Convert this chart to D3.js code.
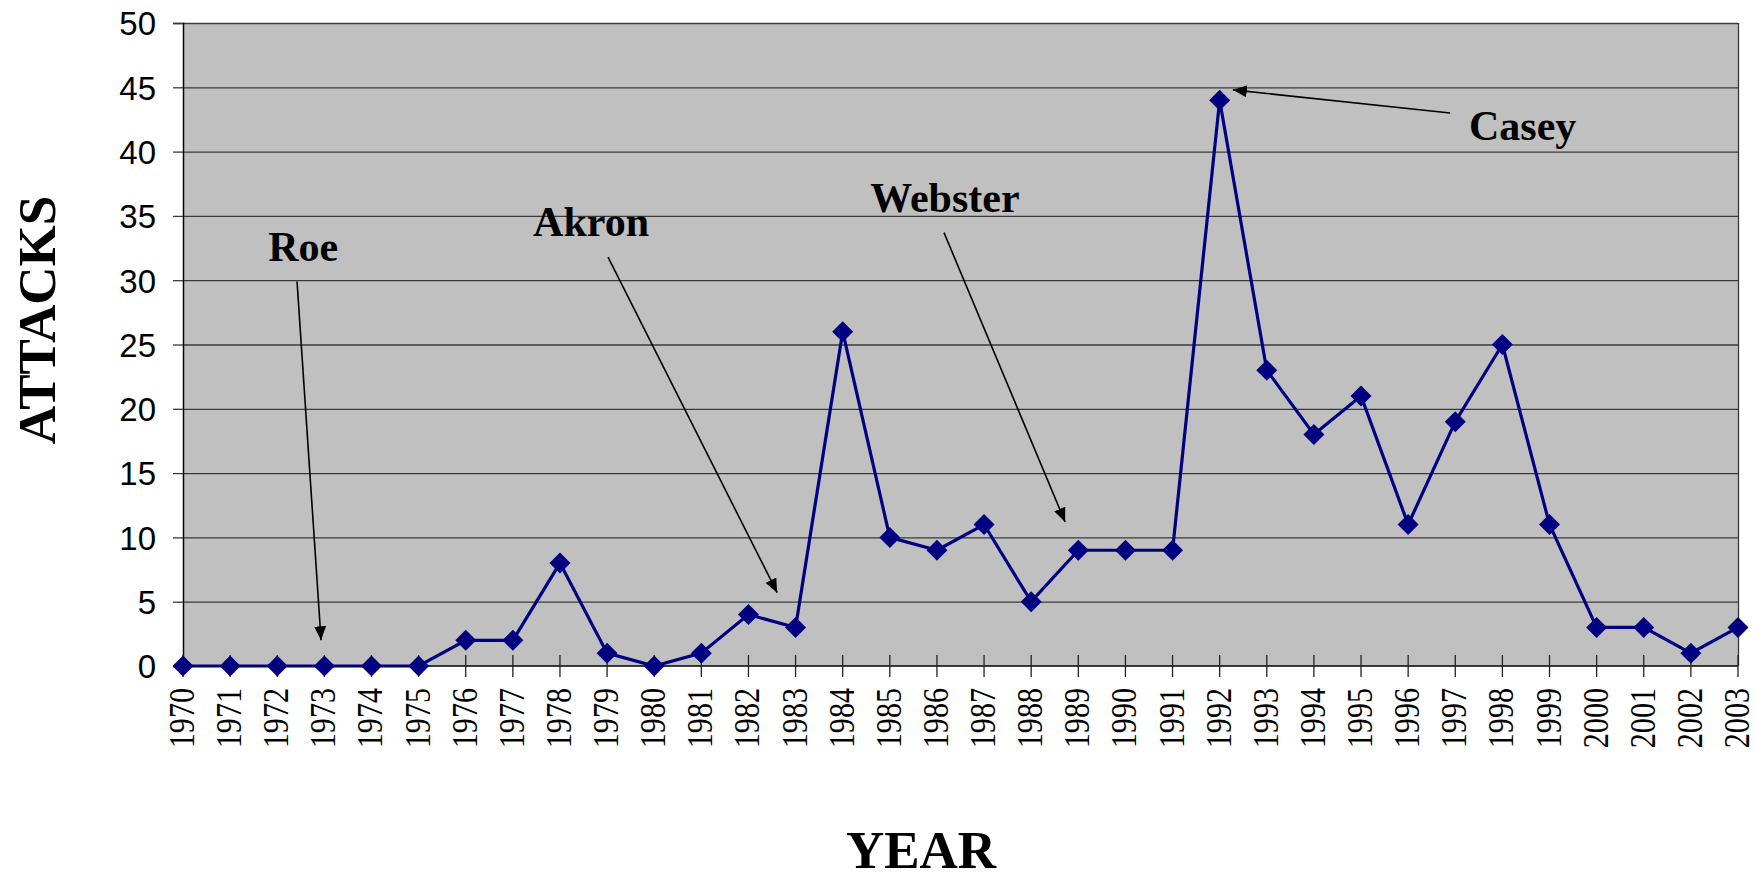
<!DOCTYPE html>
<html>
<head>
<meta charset="utf-8">
<script src="https://cdn.jsdelivr.net/npm/d3@7"></script>
<style>
  body { margin: 0; background: #fff; }
  svg { display: block; }
</style>
</head>
<body>
<svg id="chart" width="1756" height="877"></svg>
<script>
// data
const years = [1970, 1971, 1972, 1973, 1974, 1975, 1976, 1977, 1978, 1979,
  1980, 1981, 1982, 1983, 1984, 1985, 1986, 1987, 1988, 1989,
  1990, 1991, 1992, 1993, 1994, 1995, 1996, 1997, 1998, 1999,
  2000, 2001, 2002, 2003];
const attacks = [0, 0, 0, 0, 0, 0, 2, 2, 8, 1,
  0, 1, 4, 3, 26, 10, 9, 11, 5, 9,
  9, 9, 44, 23, 18, 21, 11, 19, 25, 11,
  3, 3, 1, 3];
const yTicks = [0, 5, 10, 15, 20, 25, 30, 35, 40, 45, 50];
const noteLabels = ['Roe', 'Akron', 'Webster', 'Casey'];
const noteYears = [1973, 1983, 1989, 1992];

// layout
let margin = { left: 183, right: 18, top: 23, bottom: 211 };
let width = 1756, height = 877;
let plot_w = width - margin.left - margin.right;
let plot_h = height - margin.top - margin.bottom;

let svg = d3.select('#chart');

let x_scale = d3.scaleLinear()
  .domain([years[0], years[years.length - 1]])
  .range([margin.left, margin.left + plot_w]);

let y_scale = d3.scaleLinear()
  .domain([0, 50])
  .range([margin.top + plot_h, margin.top]);

// plot background
svg.append('rect')
  .attr('x', margin.left)
  .attr('y', margin.top)
  .attr('width', plot_w)
  .attr('height', plot_h)
  .style('fill', '#c0c0c0');

// horizontal gridlines
svg.append('g')
  .selectAll('line')
  .data(yTicks.slice(1))
  .enter()
  .append('line')
  .attr('x1', margin.left)
  .attr('x2', margin.left + plot_w)
  .attr('y1', d => y_scale(d) + 0.5)
  .attr('y2', d => y_scale(d) + 0.5)
  .style('stroke', '#3a3a3a')
  .style('stroke-width', '1.3px');

// right border
svg.append('line')
  .attr('x1', margin.left + plot_w + 0.5)
  .attr('x2', margin.left + plot_w + 0.5)
  .attr('y1', margin.top)
  .attr('y2', margin.top + plot_h)
  .style('stroke', '#3a3a3a')
  .style('stroke-width', '1.3px');

// y axis
let y_axis = d3.axisLeft(y_scale)
  .tickValues(yTicks)
  .tickSize(10)
  .tickPadding(17);

let y_group = svg.append('g')
  .attr('transform', 'translate(' + margin.left + ',0)')
  .call(y_axis);

y_group.select('.domain').style('stroke', '#000').style('stroke-width', '1.5px');
y_group.selectAll('.tick line').style('stroke', '#3a3a3a').style('stroke-width', '1.3px');
y_group.selectAll('.tick text')
  .style('font-family', '"Liberation Sans", Arial, sans-serif')
  .style('font-size', '33px')
  .style('fill', '#000')
  .attr('dy', '0.36em');

// x axis baseline + crossing ticks
let base_y = y_scale(0);
svg.append('line')
  .attr('x1', margin.left)
  .attr('x2', margin.left + plot_w)
  .attr('y1', base_y)
  .attr('y2', base_y)
  .style('stroke', '#000')
  .style('stroke-width', '1.5px');

let x_ticks = svg.append('g')
  .selectAll('g')
  .data(years)
  .enter()
  .append('g')
  .attr('transform', d => 'translate(' + x_scale(d) + ',' + base_y + ')');

x_ticks.append('line')
  .attr('y1', -11)
  .attr('y2', 11)
  .style('stroke', '#222')
  .style('stroke-width', '1.3px');

x_ticks.append('text')
  .attr('transform', 'translate(11,22) rotate(-90) scale(0.86,1)')
  .attr('text-anchor', 'end')
  .style('font-family', '"Liberation Serif", "Times New Roman", serif')
  .style('font-size', '35px')
  .style('fill', '#000')
  .text(d => d);

// series line
let series = years.map((y, i) => ({ year: y, value: attacks[i] }));

let line = d3.line()
  .x(d => x_scale(d.year))
  .y(d => y_scale(d.value));

svg.append('path')
  .datum(series)
  .attr('d', line)
  .style('fill', 'none')
  .style('stroke', '#000080')
  .style('stroke-width', '3.2px');

// diamond markers
let r = 10.5;
svg.append('g')
  .selectAll('path')
  .data(series)
  .enter()
  .append('path')
  .attr('d', 'M0,' + -r + 'L' + r + ',0L0,' + r + 'L' + -r + ',0Z')
  .attr('transform', d => 'translate(' + x_scale(d.year) + ',' + y_scale(d.value) + ')')
  .style('fill', '#000080');

// annotations: text anchor and arrow ends in (year, value) units
let note_layout = {
  1973: { text: [-0.45, 31.5], from: [-0.58, 29.9], to: [-0.07, 2.0] },
  1983: { text: [-4.34, 33.4], from: [-3.98, 31.8], to: [-0.39, 5.7] },
  1989: { text: [-2.83, 35.3], from: [-2.85, 33.7], to: [-0.28, 11.2] },
  1992: { text: [6.43, 40.9], from: [4.89, 43.0], to: [0.28, 44.8] }
};

svg.append('defs')
  .append('marker')
  .attr('id', 'arrow')
  .attr('viewBox', '0 0 14 12')
  .attr('refX', 14)
  .attr('refY', 6)
  .attr('markerWidth', 14)
  .attr('markerHeight', 12)
  .attr('markerUnits', 'userSpaceOnUse')
  .attr('orient', 'auto')
  .append('path')
  .attr('d', 'M0,0L14,6L0,12Z')
  .style('fill', '#000');

let notes = noteLabels.map((label, i) => ({ label: label, year: noteYears[i] }));

let note_g = svg.append('g')
  .selectAll('g')
  .data(notes)
  .enter()
  .append('g');

note_g.append('line')
  .attr('x1', d => x_scale(d.year + note_layout[d.year].from[0]))
  .attr('y1', d => y_scale(note_layout[d.year].from[1]))
  .attr('x2', d => x_scale(d.year + note_layout[d.year].to[0]))
  .attr('y2', d => y_scale(note_layout[d.year].to[1]))
  .attr('marker-end', 'url(#arrow)')
  .style('stroke', '#000')
  .style('stroke-width', '1.6px');

note_g.append('text')
  .attr('x', d => x_scale(d.year + note_layout[d.year].text[0]))
  .attr('y', d => y_scale(note_layout[d.year].text[1]))
  .attr('text-anchor', 'middle')
  .style('font-family', '"Liberation Serif", "Times New Roman", serif')
  .style('font-weight', 'bold')
  .style('font-size', '42px')
  .style('fill', '#000')
  .text(d => d.label);

// axis titles
svg.append('text')
  .attr('transform', 'translate(55,320) rotate(-90)')
  .attr('text-anchor', 'middle')
  .style('font-family', '"Liberation Serif", "Times New Roman", serif')
  .style('font-weight', 'bold')
  .style('font-size', '53px')
  .text('ATTACKS');

svg.append('text')
  .attr('x', 921)
  .attr('y', 868)
  .attr('text-anchor', 'middle')
  .style('font-family', '"Liberation Serif", "Times New Roman", serif')
  .style('font-weight', 'bold')
  .style('font-size', '53px')
  .text('YEAR');
</script>
</body>
</html>
